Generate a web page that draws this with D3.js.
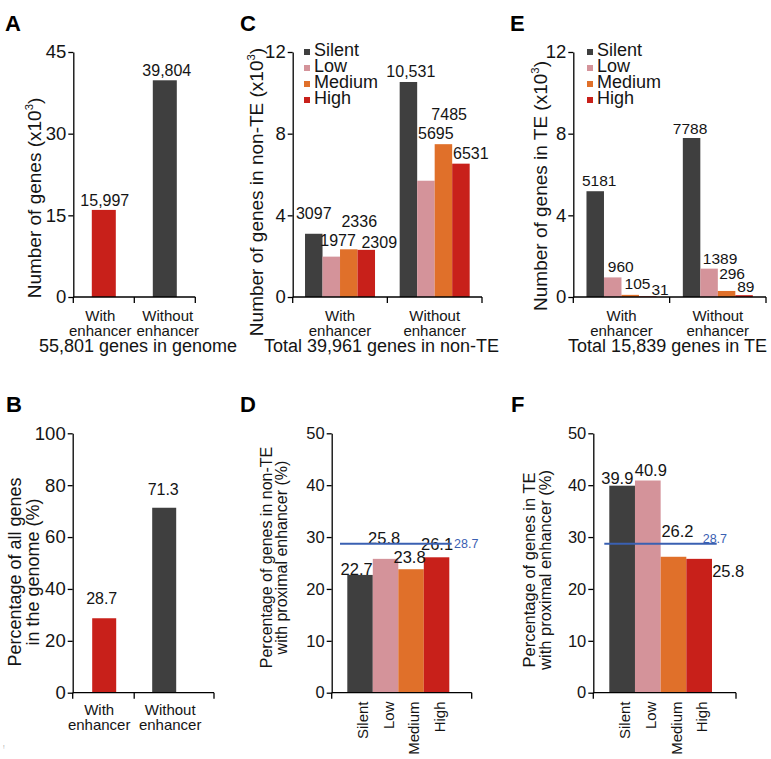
<!DOCTYPE html>
<html><head><meta charset="utf-8">
<script src="https://cdn.jsdelivr.net/npm/d3@7"></script>
<style>body{margin:0;background:#fff}</style>
</head><body>
<script>
// ---------------- data ----------------
const groups = ["With enhancer", "Without enhancer"];
const levels = ["Silent", "Low", "Medium", "High"];
const genomeCounts = [15997, 39804];          // panel A
const genomePct = [28.7, 71.3];               // panel B
const nonTEWith = [3097, 1977, 2336, 2309];   // panel C
const nonTEWithout = [10531, 5695, 7485, 6531];
const teWith = [5181, 960, 105, 31];          // panel E
const teWithout = [7788, 1389, 296, 89];
const nonTEPct = [22.7, 25.8, 23.8, 26.1];    // panel D
const tePct = [39.9, 40.9, 26.2, 25.8];       // panel F
const genomeAvgPct = 28.7;
const ticksA = [0, 15, 30, 45];
const ticksB = [0, 20, 40, 60, 80, 100];
const ticksCE = [0, 4, 8, 12];
const ticksDF = [0, 10, 20, 30, 40, 50];
const captionA = "55,801 genes in genome";
const captionC = "Total 39,961 genes in non-TE";
const captionE = "Total 15,839 genes in TE";

// ---------------- style ----------------
const FONT = "'Liberation Sans', Arial, Helvetica, sans-serif";
const DARK = "#3f3f3f", PINK = "#d4939a", ORANGE = "#e0702a", RED = "#c8201a", BLUE = "#3a60b2";
const levelColors = [DARK, PINK, ORANGE, RED];
const TXT = "#141414";

const svg = d3.select("body").append("svg")
  .attr("width", 771).attr("height", 759)
  .style("font-family", FONT);

function yAxis(scale, ticks, x, fs, fmt) {
  const g = svg.append("g").attr("transform", `translate(${x},0)`)
    .call(d3.axisLeft(scale).tickValues(ticks).tickSize(5).tickSizeOuter(0).tickPadding(2)
      .tickFormat(fmt || (d => d)));
  g.select(".domain").attr("stroke", "#000").attr("stroke-width", 1.3);
  g.selectAll(".tick line").attr("stroke", "#000").attr("stroke-width", 1.3);
  g.selectAll(".tick text").attr("font-size", fs).attr("fill", TXT).attr("font-family", FONT);
}
function xAxis(x0, x1, y, tickXs) {
  const g = svg.append("g");
  g.append("line").attr("x1", x0).attr("x2", x1).attr("y1", y).attr("y2", y)
    .attr("stroke", "#000").attr("stroke-width", 1.3);
  g.selectAll("line.t").data(tickXs).join("line").attr("class", "t")
    .attr("x1", d => d).attr("x2", d => d).attr("y1", y).attr("y2", y + 6)
    .attr("stroke", "#000").attr("stroke-width", 1.3);
}
function text(x, y, s, fs, opts = {}) {
  return svg.append("text").attr("x", x).attr("y", y).text(s)
    .attr("font-size", fs).attr("fill", opts.fill || TXT)
    .attr("text-anchor", opts.anchor || "middle")
    .attr("font-weight", opts.weight || "normal");
}
function yTitle(cx, cy, lines, fs, sup) {
  const t = svg.append("text").attr("transform", `translate(${cx},${cy}) rotate(-90)`)
    .attr("text-anchor", "middle").attr("font-size", fs).attr("fill", TXT);
  const n = lines.length;
  lines.forEach((l, i) => {
    t.append("tspan").attr("x", 0)
      .attr("y", (i - (n - 1) / 2) * fs * 0.98 + fs * 0.35).text(l);
  });
  if (sup) {
    t.append("tspan").attr("font-size", fs * 0.6).attr("dy", -fs * 0.4).text("3");
    t.append("tspan").attr("dy", fs * 0.4).text(")");
  }
}
function groupLabels(xs, y, fs, shift) {
  groups.forEach((g, i) => {
    const parts = g.split(" ");
    const cx = xs(g) + (shift ? shift[i] : 0);
    text(cx, y, parts[0], fs);
    text(cx, y + 15, parts[1], fs);
  });
}
function legend(x, y) {
  levels.forEach((l, i) => {
    svg.append("rect").attr("x", x).attr("y", y + i * 16 - 1).attr("width", 6).attr("height", 6)
      .attr("fill", levelColors[i]);
    text(x + 10, y + i * 16 + 6, l, 18, { anchor: "start" });
  });
}

// panel letters
[["A", 5, 31], ["C", 240, 31], ["E", 510, 31], ["B", 6, 412], ["D", 240, 412], ["F", 511, 412]]
  .forEach(([s, x, y]) => text(x, y, s, 22, { anchor: "start", weight: "bold" }).attr("fill", "#000"));

// ---------------- Panel A ----------------
{
  const y = d3.scaleLinear([0, 45000], [297, 52]);
  const x = d3.scalePoint(groups, [73.3, 195.3]).padding(0.5);
  const bw = 24;
  const cols = [RED, DARK];
  svg.selectAll("rect.a").data(genomeCounts).join("rect").attr("class", "a")
    .attr("x", (d, i) => x(groups[i]) - bw / 2).attr("width", bw)
    .attr("y", d => y(d)).attr("height", d => y(0) - y(d)).attr("fill", (d, i) => cols[i]);
  yAxis(y, ticksA.map(t => t * 1000), 73.3, 18.5, d => d / 1000);
  xAxis(73.3, 195.3, 297, [73.3, (x(groups[0]) + x(groups[1])) / 2, 195.3]);
  const off = [[1, -3.5], [2, -4.3]];
  genomeCounts.forEach((v, i) => text(x(groups[i]) + off[i][0], y(v) + off[i][1], d3.format(",")(v), 16));
  groupLabels(x, 321, 15, [-3.5, 3]);
  text(138, 352, captionA, 18);
  yTitle(34, 198, ["Number of genes (x10"], 19, true);
}

// ---------------- Panel B ----------------
{
  const y = d3.scaleLinear([0, 100], [692.7, 433.3]);
  const x = d3.scalePoint(groups, [74.2, 194.2]).padding(0.5);
  const bw = 24;
  const cols = [RED, DARK];
  svg.selectAll("rect.b").data(genomePct).join("rect").attr("class", "b")
    .attr("x", (d, i) => x(groups[i]) - bw / 2).attr("width", bw)
    .attr("y", d => y(d)).attr("height", d => y(0) - y(d)).attr("fill", (d, i) => cols[i]);
  yAxis(y, ticksB, 72.7, 18.5);
  xAxis(72.7, 214, 692.7, [72.7, (x(groups[0]) + x(groups[1])) / 2, 214]);
  const off = [[-2.5, -14.3], [-1, -12.7]];
  genomePct.forEach((v, i) => text(x(groups[i]) + off[i][0], y(v) + off[i][1], d3.format(".1f")(v), 16));
  groupLabels(x, 715, 15, [-5, 6]);
  yTitle(24, 572, ["Percentage of all genes", "in the genome (%)"], 18, false);
  text(3, 749, "!", 6, { anchor: "start", fill: "#999" });
}

// ---------------- grouped panels C and E ----------------
function grouped(cfg) {
  const y = d3.scaleLinear([0, 12000], [297, 52]);
  const x = d3.scalePoint(groups, [cfg.x0, cfg.x1]).padding(0.5);
  const inner = d3.scaleBand(levels, [-35, 35]);
  const rows = [cfg.withVals, cfg.withoutVals];
  rows.forEach((vals, gi) => {
    svg.selectAll(null).data(vals).join("rect")
      .attr("x", (d, li) => x(groups[gi]) + inner(levels[li])).attr("width", inner.bandwidth())
      .attr("y", d => y(d)).attr("height", d => y(0) - y(d)).attr("fill", (d, li) => levelColors[li]);
  });
  yAxis(y, ticksCE.map(t => t * 1000), cfg.x0, 18.5, d => d / 1000);
  xAxis(cfg.x0, cfg.x1, 297, [cfg.x0, (x(groups[0]) + x(groups[1])) / 2, cfg.x1]);
  const fmt = v => v >= 10000 ? d3.format(",")(v) : String(v);
  rows.forEach((vals, gi) => vals.forEach((v, li) => {
    const o = cfg.off[gi][li];
    text(x(groups[gi]) + inner(levels[li]) + inner.bandwidth() / 2 + o[0], y(v) + o[1], fmt(v), cfg.valFs);
  }));
  groupLabels(x, 321, 15);
  legend(cfg.legX, 50);
  text(cfg.capX, 352, cfg.caption, 18);
  yTitle(cfg.titleX, cfg.titleY, [cfg.title], 19, true);
}
grouped({
  x0: 292.7, x1: 482, withVals: nonTEWith, withoutVals: nonTEWithout, valFs: 16,
  off: [[[0, -14.8], [6.8, -10.9], [10.5, -21.9], [13, -1.5]],
        [[2.4, -4.6], [9.9, -41.7], [5.7, -24.5], [9.9, -4.7]]],
  legX: 304, caption: captionC, capX: 381.5,
  title: "Number of genes in non-TE (x10", titleX: 256, titleY: 192
});
grouped({
  x0: 573.3, x1: 766, withVals: teWith, withoutVals: teWithout, valFs: 15.5,
  off: [[[4, -5.7], [8, -5.2], [7.3, -6], [12.3, -1]],
        [[-1.5, -4.2], [11, -4.8], [5.5, -11.5], [1.8, -3]]],
  legX: 587, caption: captionE, capX: 667.5,
  title: "Number of genes in TE (x10", titleX: 540, titleY: 186
});

// ---------------- percentage panels D and F ----------------
function pct(cfg) {
  const y = d3.scaleLinear([0, 50], [692.7, 433.3]);
  const x = d3.scaleBand(levels, [cfg.b0, cfg.b1]);
  svg.selectAll(null).data(cfg.vals).join("rect")
    .attr("x", (d, i) => x(levels[i])).attr("width", x.bandwidth())
    .attr("y", d => y(d)).attr("height", d => y(0) - y(d)).attr("fill", (d, i) => levelColors[i]);
  yAxis(y, ticksDF, cfg.ax0, 16.5);
  xAxis(cfg.ax0, cfg.ax1, 692.7, [cfg.ax0, cfg.ax1]);
  cfg.vals.forEach((v, i) => {
    const o = cfg.off[i];
    text(x(levels[i]) + x.bandwidth() / 2 + o[0], y(v) + o[1], d3.format(".1f")(v), 16.5);
  });
  // reference line (genome-wide %)
  const ly = y(genomeAvgPct);
  svg.append("line").attr("x1", cfg.b0 - cfg.lineL).attr("x2", cfg.b1 + cfg.lineR)
    .attr("y1", ly).attr("y2", ly).attr("stroke", BLUE).attr("stroke-width", 2);
  text(cfg.refX, ly + cfg.refDy, d3.format(".1f")(genomeAvgPct), 12.5, { anchor: "start", fill: BLUE });
  levels.forEach((l, i) => {
    svg.append("text").attr("transform", `translate(${x(l) + x.bandwidth() / 2 + 3},${701.5}) rotate(-90)`)
      .attr("text-anchor", "end").attr("dy", "0.35em").attr("font-size", 15).attr("fill", TXT).text(l);
  });
  yTitle(cfg.tx, cfg.ty, cfg.title, cfg.tfs, false);
}
pct({
  vals: nonTEPct, b0: 347.3, b1: 449.3, ax0: 331.7, ax1: 471.7,
  off: [[-3.4, 0], [-1.4, -14.9], [-1.5, -5.9], [0.5, -7.3]],
  lineL: 7.3, lineR: 2.4, refX: 454, refDy: 4.4,
  title: ["Percentage of genes in non-TE", "with proximal enhancer (%)"], tx: 274, ty: 557.5, tfs: 16
});
pct({
  vals: tePct, b0: 609.3, b1: 712, ax0: 593.3, ax1: 736,
  off: [[-4.8, -1.7], [3, -4.8], [4, -19.5], [29.1, 17.8]],
  lineL: 5, lineR: 4.7, refX: 702.7, refDy: -1,
  title: ["Percentage of genes in TE", "with proximal enhancer (%)"], tx: 537, ty: 570, tfs: 16.5
});
</script>
</body></html>
